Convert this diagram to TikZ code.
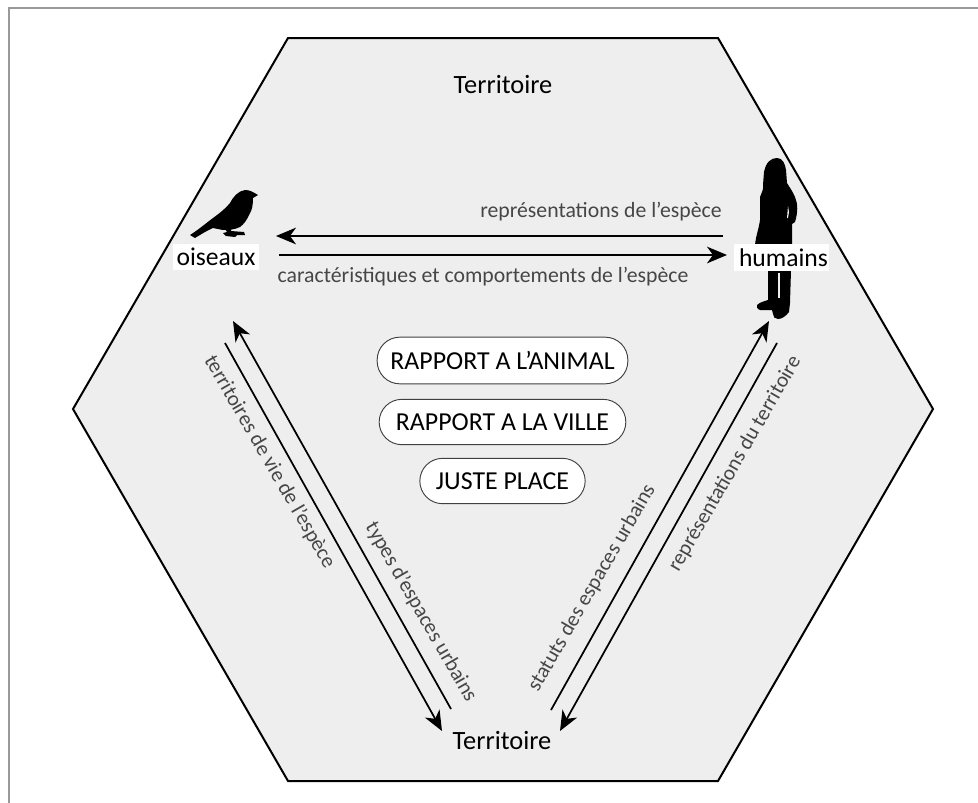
\documentclass[tikz,border=0pt]{standalone}
\usepackage{fontspec}
\setmainfont{Carlito}
\usetikzlibrary{arrows.meta}
\definecolor{hexfill}{RGB}{238,238,238}
\definecolor{lab}{RGB}{70,70,70}
\tikzset{
 x=0.75pt,y=-0.75pt,
 arr/.style={line width=1.3pt,-{Stealth[length=15pt,width=12.5pt,inset=4.5pt]}},
 lab/.style={text=lab,font=\fontsize{16.3}{18}\selectfont,inner sep=0pt},
 rlab/.style={text=lab,font=\fontsize{15.9}{18}\selectfont,inner sep=0pt},
 main/.style={text=black,font=\fontsize{19.8}{22}\selectfont,inner sep=0pt},
 actor/.style={fill=white,text=black,font=\fontsize{19.2}{22}\selectfont,inner sep=0pt,minimum height=20pt},
 pill/.style={draw=black!75,line width=0.7pt,fill=white,rounded corners=17pt,font=\fontsize{19.4}{22}\selectfont,inner sep=0pt},
 silh/.style={fill=black,draw=none},
}
\begin{document}
\begin{tikzpicture}
\useasboundingbox (0,0) rectangle (978,803);
\fill[white] (0,0) rectangle (978,803);
\draw[line width=0.9pt,draw=gray!80] (9,803) -- (9,8) -- (978,8);
\draw[line width=1.5pt,fill=hexfill,line join=miter] (288,38) -- (718,38) -- (933,409) -- (718,781) -- (288,781) -- (73,409) -- cycle;
\node[main] (terrtop) at (503,85) {Territoire};
\node[main] (terrbot) at (502,741) {Territoire};
% bird
\path[silh] (190,235) .. controls (198,230) and (205,224) .. (213,218) .. controls (220,213) and (226,208) .. (230,203) .. controls (233,197) and (238,191) .. (245,190) .. controls (250,190) and (253,192) .. (258,195) -- (253,198) .. controls (253,205) and (252,210) .. (250,213) .. controls (247,220) and (244,224) .. (240,227) .. controls (234,230) and (228,230) .. (223,230) -- (213,228) .. controls (206,231) and (200,235) .. (195,238) -- cycle;
\path[silh] (225,229) -- (231,229) -- (231,231) -- (244,232) -- (245,235) -- (237,235) -- (235,237) -- (226,236) -- (223,233) -- (227,232) -- cycle;
% human
\path[silh] (764,172) .. controls (766,162) and (771,158) .. (777,158) .. controls (783,158) and (785,164) .. (786,170) -- (787,183) .. controls (790,188) and (793,192) .. (795,197) .. controls (798,204) and (798,212) .. (795,222) -- (792,224) -- (792,245) -- (755,245) .. controls (756,235) and (759,228) .. (760,220) -- (760,197) .. controls (762,192) and (764,188) .. (763,185) -- cycle
 (768,270) -- (791,270) -- (790,303) -- (789,312) .. controls (786,316) and (782,319) .. (778,319) .. controls (775,319) and (773,317) .. (773,314) -- (772,310) -- (760,310) .. controls (757,309) and (756,306) .. (757,305) .. controls (760,302) and (765,301) .. (768,300) -- cycle;
\fill[hexfill] (778,273) -- (780,273) -- (780,298) -- (778,298) -- cycle;
\fill[hexfill] (788,206) -- (789,212) -- (788,218) -- (787,218) -- cycle;
\node[actor,minimum width=64.5pt] (ois) at (216,257) {oiseaux};
\node[actor,minimum width=71pt] (hum) at (781.5,257.5) {\hspace*{3pt}humains};
\coordinate (a1s) at (723,236); \coordinate (a1e) at (276,236);
\coordinate (a2s) at (279,255); \coordinate (a2e) at (727,255);
\draw[arr] (a1s) -- (a1e);
\draw[arr] (a2s) -- (a2e);
\node[lab] (l1) at (601,212) {représentations de l’espèce};
\node[lab] (l2) at (483,277) {caractéristiques et comportements de l’espèce};
\coordinate (b1s) at (451,709); \coordinate (b1e) at (233,321);
\coordinate (b2s) at (225,343); \coordinate (b2e) at (442,731);
\draw[arr] (b1s) -- (b1e);
\draw[arr] (b2s) -- (b2e);
\coordinate (c1s) at (551,710); \coordinate (c1e) at (769,321);
\coordinate (c2s) at (777,343); \coordinate (c2e) at (560,731);
\draw[arr] (c1s) -- (c1e);
\draw[arr] (c2s) -- (c2e);
\node[rlab,rotate=-60] (l3) at (269.5,462) {territoires de vie de l’espèce};
\node[rlab,rotate=-60] (l4) at (421,612) {types d’espaces urbains};
\node[rlab,rotate=60] (l5) at (592,588) {statuts des espaces urbains};
\node[rlab,rotate=60] (l6) at (735,464) {représentations du territoire};
\node[pill,minimum width=188pt,minimum height=35pt] (p1) at (502.5,360.5) {RAPPORT A L’ANIMAL};
\node[pill,minimum width=185pt,minimum height=34pt] (p2) at (502.5,422) {RAPPORT A LA VILLE};
\node[pill,minimum width=124pt,minimum height=34pt] (p3) at (502.5,481) {JUSTE PLACE};
\end{tikzpicture}
\end{document}
